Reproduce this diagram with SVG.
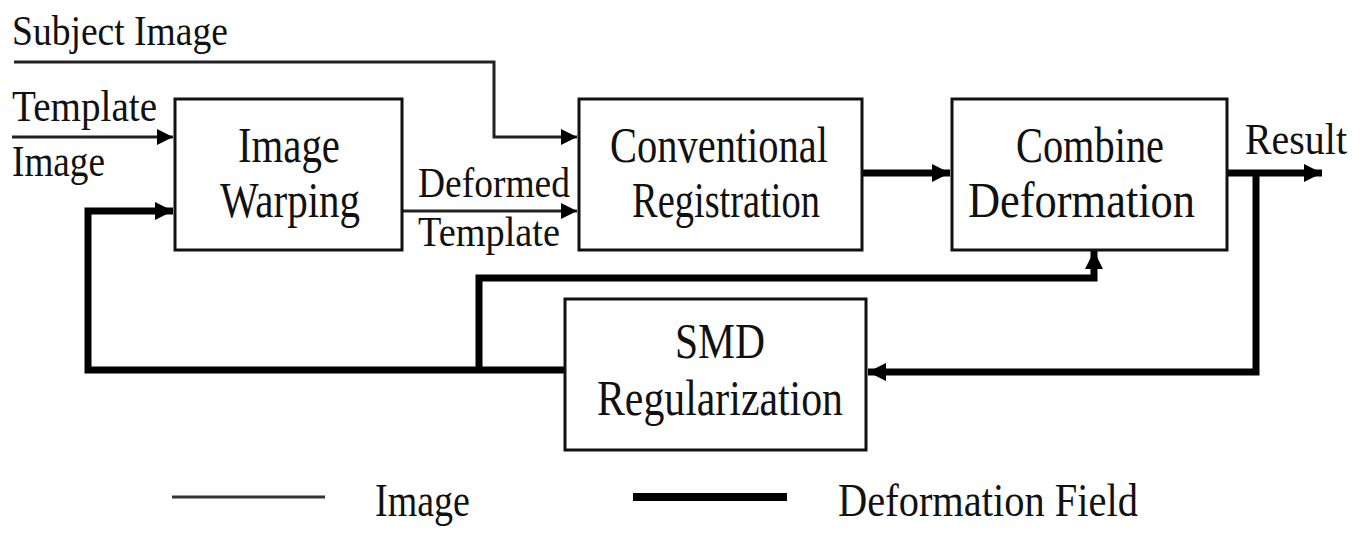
<svg xmlns="http://www.w3.org/2000/svg" width="1371" height="533" viewBox="0 0 1371 533">
<defs>
<style>
.box{fill:#fff;stroke:#111;stroke-width:3}
.t{font-family:"Liberation Serif","Times New Roman",serif;fill:#111}
.thin{fill:none;stroke:#222;stroke-width:3}
.thick{fill:none;stroke:#000;stroke-width:7}
</style>
<marker id="ah" markerUnits="userSpaceOnUse" markerWidth="18" markerHeight="16" refX="16" refY="8" orient="auto">
<path d="M0,0 L16,8 L0,16 Z" fill="#000"/>
</marker>
<marker id="ahb" markerUnits="userSpaceOnUse" markerWidth="20" markerHeight="18" refX="18" refY="9" orient="auto">
<path d="M0,0 L18,9 L0,18 Z" fill="#000"/>
</marker>
</defs>
<rect width="1371" height="533" fill="#fff"/>

<g id="connectors">
<polyline class="thin" points="14,62 494,62 494,137 577,137" marker-end="url(#ah)"/>
<line class="thin" x1="12" y1="137" x2="173" y2="137" marker-end="url(#ah)"/>
<line class="thin" x1="402" y1="211" x2="577" y2="211" marker-end="url(#ah)"/>
<line class="thick" x1="862" y1="173" x2="950" y2="173" marker-end="url(#ahb)"/>
<line class="thick" x1="1227" y1="173" x2="1322" y2="173" marker-end="url(#ahb)"/>
<polyline class="thick" points="1256,173 1256,372 868,372" marker-end="url(#ahb)"/>
<polyline class="thick" points="565,370 88,370 88,211 173,211" marker-end="url(#ahb)"/>
<polyline class="thick" points="479,370 479,278 1094,278 1094,251" marker-end="url(#ahb)"/>
<text class="t" x="12" y="45" font-size="43" textLength="216" lengthAdjust="spacingAndGlyphs">Subject Image</text>
<text class="t" x="12" y="121" font-size="45" textLength="145" lengthAdjust="spacingAndGlyphs">Template</text>
<text class="t" x="12" y="176" font-size="45" textLength="93" lengthAdjust="spacingAndGlyphs">Image</text>
<text class="t" x="418" y="197" font-size="43" textLength="152" lengthAdjust="spacingAndGlyphs">Deformed</text>
<text class="t" x="418" y="246" font-size="43" textLength="142" lengthAdjust="spacingAndGlyphs">Template</text>
<text class="t" x="1245" y="154" font-size="45" textLength="102" lengthAdjust="spacingAndGlyphs">Result</text>
</g>

<g id="image-warping">
<rect class="box" x="175" y="99" width="227" height="151"/>
<text class="t" x="238" y="162" font-size="50" textLength="102" lengthAdjust="spacingAndGlyphs">Image</text>
<text class="t" x="220" y="217" font-size="50" textLength="140" lengthAdjust="spacingAndGlyphs">Warping</text>
</g>

<g id="conventional-registration">
<rect class="box" x="579" y="99" width="283" height="151"/>
<text class="t" x="610" y="162" font-size="50" textLength="218" lengthAdjust="spacingAndGlyphs">Conventional</text>
<text class="t" x="632" y="217" font-size="50" textLength="188" lengthAdjust="spacingAndGlyphs">Registration</text>
</g>

<g id="combine-deformation">
<rect class="box" x="952" y="99" width="275" height="151"/>
<text class="t" x="1016" y="162" font-size="50" textLength="148" lengthAdjust="spacingAndGlyphs">Combine</text>
<text class="t" x="968" y="217" font-size="50" textLength="227" lengthAdjust="spacingAndGlyphs">Deformation</text>
</g>

<g id="smd-regularization">
<rect class="box" x="565" y="299" width="301" height="151"/>
<text class="t" x="675" y="358" font-size="50" textLength="90" lengthAdjust="spacingAndGlyphs">SMD</text>
<text class="t" x="597" y="415" font-size="50" textLength="246" lengthAdjust="spacingAndGlyphs">Regularization</text>
</g>

<g id="legend">
<line x1="172" y1="497" x2="325" y2="497" stroke="#333" stroke-width="3"/>
<text class="t" x="375" y="516" font-size="47" textLength="95" lengthAdjust="spacingAndGlyphs">Image</text>
<line x1="633" y1="497" x2="787" y2="497" stroke="#000" stroke-width="8"/>
<text class="t" x="838" y="516" font-size="47" textLength="300" lengthAdjust="spacingAndGlyphs">Deformation Field</text>
</g>
</svg>
